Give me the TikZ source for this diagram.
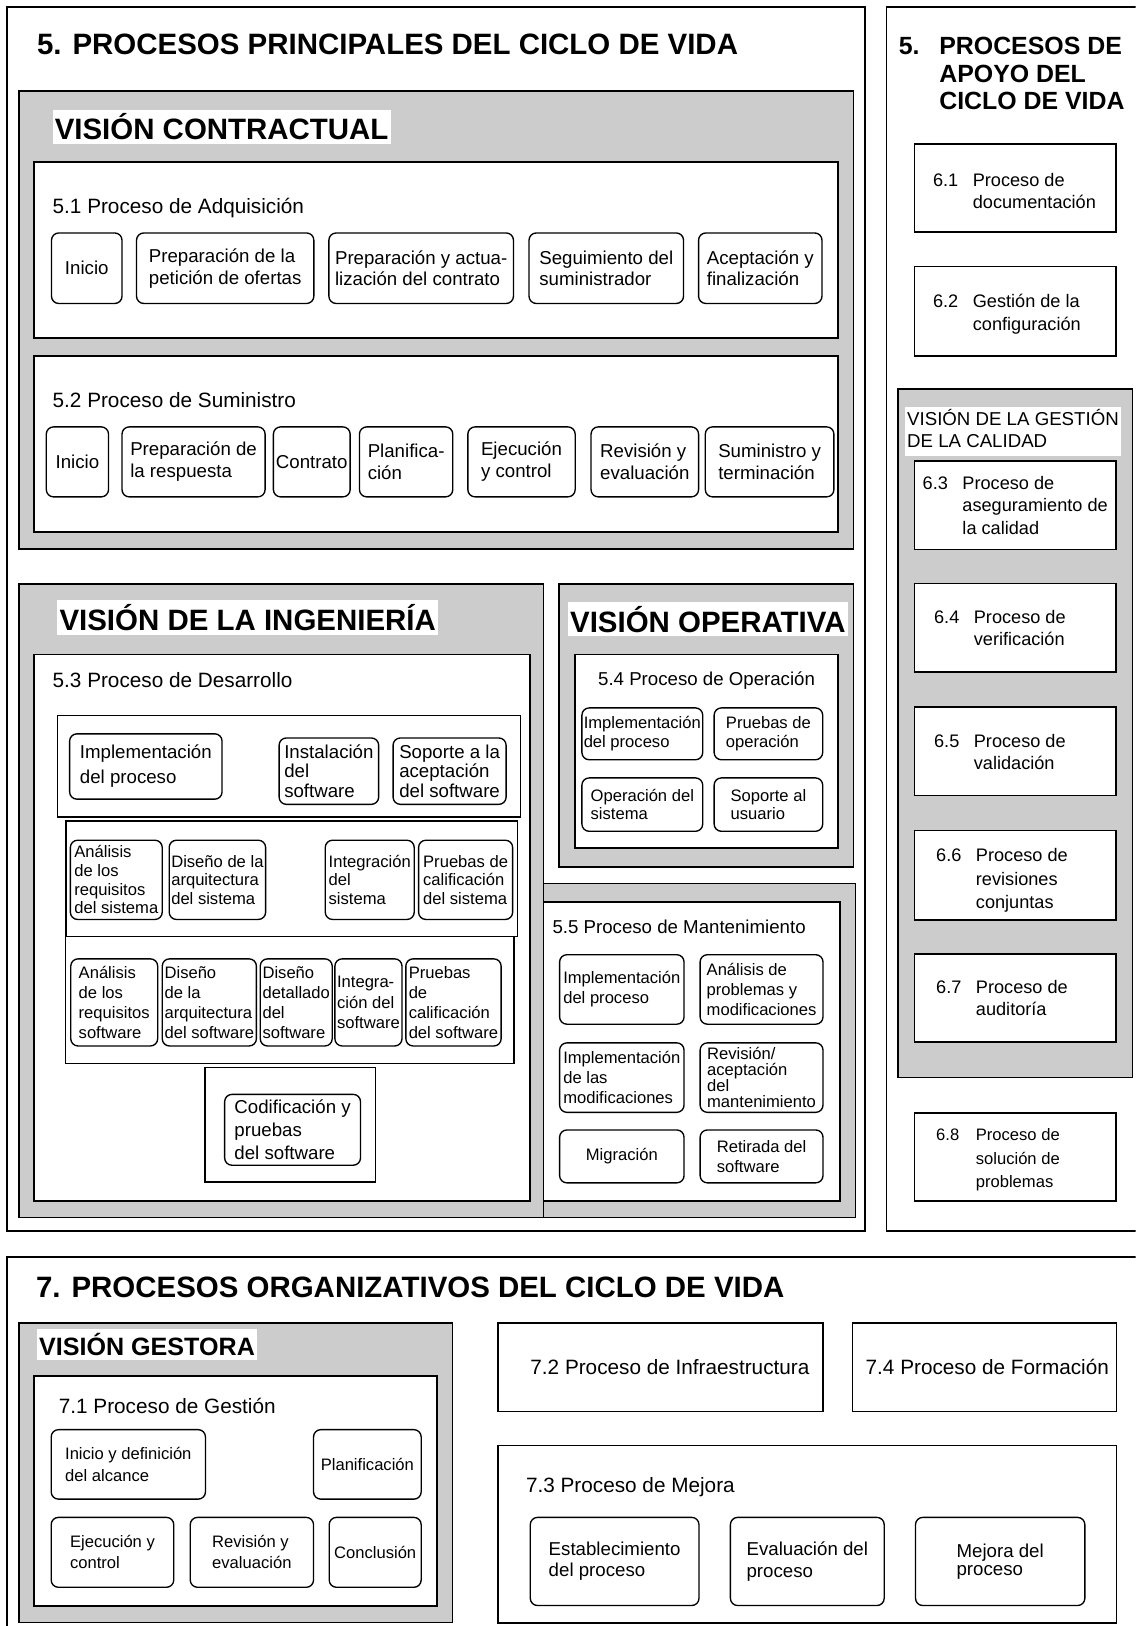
\documentclass[tikz,border=0pt]{standalone}
\usepackage{fontspec}
\setmainfont{Liberation Sans}

\begin{document}
\begin{tikzpicture}[x=1pt,y=-1pt,line width=1.6pt,
    zone/.style={draw,fill=black!20},
    frame/.style={draw,fill=white},
    pbox/.style 2 args={draw,fill=white,line width=1.3pt,rounded corners=7pt,inner sep=1pt,
      align=left,anchor=north west,minimum width=#1,minimum height=#2},
    lbl/.style={anchor=base west,inner sep=0pt},
    vis/.style={anchor=base west,fill=white,inner xsep=2pt,inner ysep=4pt,font=\bfseries\fontsize{28.4}{30}\selectfont},
    big/.style={font=\bfseries\fontsize{28.4}{30}\selectfont},
    f20/.style={font=\fontsize{20}{23}\selectfont},
    f18/.style={font=\fontsize{18}{21}\selectfont},
    f17/.style={font=\fontsize{17.5}{21.5}\selectfont},
    f16/.style={font=\fontsize{16}{18}\selectfont}]
      \useasboundingbox (0,0) rectangle (1095,1568);
      \clip (0,0) rectangle (1095,1568);

      % large frames
      \draw (7,7) rectangle (834,1187);
      \draw (855,7) rectangle (1120,1187);
      \draw (7,1212) rectangle (1120,1600);
      \node[lbl,big] (tmain) at (35,53) {5. PROCESOS PRINCIPALES DEL CICLO DE VIDA};
      \node[lbl,font=\bfseries\fontsize{24}{26.8}\selectfont] (tapoyo) at (866,52.4)
        {\begin{tabular}[t]{@{}l@{\hspace{19pt}}l@{}}5.&PROCESOS DE\\&APOYO DEL\\&CICLO DE VIDA\end{tabular}};
      \node[lbl,big] (torg) at (34,1251) {7. PROCESOS ORGANIZATIVOS DEL CICLO DE VIDA};

      % vision contractual
      \draw[zone] (18.5,87.5) rectangle (823,529.5);
      \node[vis] (vcon) at (50,135) {VISIÓN CONTRACTUAL};
      \draw[frame] (33,156) rectangle (808,326);
      \node[lbl,f20] (l51) at (50,205.7) {5.1 Proceso de Adquisición};
      \node[pbox={68}{68},f18] (a1) at (49,224) {Inicio};
      \node[pbox={171}{68},f18] (a2) at (131,224) {Preparación de la\\petición de ofertas};
      \node[pbox={178}{68},f18] (a3) at (316.5,224) {Preparación y actua-\\lización del contrato};
      \node[pbox={149}{68},f18] (a4) at (509.5,224) {Seguimiento del\\suministrador};
      \node[pbox={119}{68},f18] (a5) at (673,224) {Aceptación y\\finalización};
      \draw[frame] (33,343) rectangle (808,513);
      \node[lbl,f20] (l52) at (50,392.5) {5.2 Proceso de Suministro};
      \node[pbox={60}{67.5},f18] (b1) at (44,411) {Inicio};
      \node[pbox={138}{67.5},f18] (b2) at (117,411) {Preparación de\\la respuesta};
      \node[pbox={74}{67.5},f18] (b3) at (263,411) {Contrato};
      \node[pbox={90}{67.5},f18] (b4) at (346,411) {Planifica-\\ción};
      \node[pbox={103.5}{67.5},f18] (b5) at (450.5,411) {Ejecución\\y control};
      \node[pbox={103.7}{67.5},f18] (b6) at (569.3,411) {Revisión y\\evaluación};
      \node[pbox={124}{67.5},f18] (b7) at (679.5,411) {Suministro y\\terminación};

      % vision de la ingenieria
      \draw[zone] (18.5,563) rectangle (524,1174);
      \node[vis] (ving) at (54.6,608) {VISIÓN DE LA INGENIERÍA};
      \draw[frame] (33,631) rectangle (511,1158);
      \node[lbl,f20] (l53) at (50,662.6) {5.3 Proceso de Desarrollo};
      \draw[frame] (55.5,690) rectangle (502,788);
      \node[pbox={147}{63},font=\fontsize{18}{24}\selectfont] (c1) at (66.5,707) {Implementación\\del proceso};
      \node[pbox={96}{64},font=\fontsize{18}{19}\selectfont] (c2) at (268.5,711) {Instalación\\del\\software};
      \node[pbox={109}{64},font=\fontsize{18}{19}\selectfont] (c3) at (378.4,711) {Soporte a la\\aceptación\\del software};
      \draw[frame] (63.5,792) rectangle (499,903);
      \node[pbox={88.6}{76.4},f16] (d1) at (67.2,809.6) {Análisis\\de los\\requisitos\\del sistema};
      \node[pbox={93}{76.4},f16] (d2) at (162.5,809.6) {Diseño de la\\arquitectura\\del sistema};
      \node[pbox={85.8}{76.4},f16] (d3) at (313,809.6) {Integración\\del\\sistema};
      \node[pbox={90.7}{76.4},f16] (d4) at (403,809.6) {Pruebas de\\calificación\\del sistema};
      \draw[frame] (63,903) rectangle (495.5,1025.5);
      \node[pbox={83.8}{84},font=\fontsize{16}{19.5}\selectfont] (e1) at (67.6,924) {Análisis\\de los\\requisitos\\software};
      \node[pbox={90.8}{84},font=\fontsize{16}{19.5}\selectfont] (e2) at (155.8,924) {Diseño\\de la\\arquitectura\\del software};
      \node[pbox={69.4}{84},font=\fontsize{16}{19.5}\selectfont] (e3) at (250.3,924) {Diseño\\detallado\\del\\software};
      \node[pbox={64.7}{84},font=\fontsize{16}{19.5}\selectfont] (e4) at (322.3,924) {Integra-\\ción del\\software};
      \node[pbox={91.9}{84},font=\fontsize{16}{19.5}\selectfont] (e5) at (390.7,924) {Pruebas\\de\\calificación\\del software};
      \draw[frame] (197.5,1029.5) rectangle (362,1140);
      \node[pbox={131}{68.3},font=\fontsize{18}{22.3}\selectfont] (f1) at (216,1054.7) {Codificación y\\pruebas\\del software};

      % vision operativa
      \draw[zone] (539,563) rectangle (823,836);
      \node[vis] (vope) at (547,609.5) {VISIÓN OPERATIVA};
      \draw[frame] (554.5,631) rectangle (808,818);
      \node[lbl,f18] (l54) at (576,661) {5.4 Proceso de Operación};
      \node[pbox={116.5}{50},f16] (g1) at (560.5,682) {Implementación\\del proceso};
      \node[pbox={104.7}{50},f16] (g2) at (688,682) {Pruebas de\\operación};
      \node[pbox={116.5}{51.5},f16] (g3) at (560.5,749.5) {Operación del\\sistema};
      \node[pbox={104.7}{51.5},f16] (g4) at (688,749.5) {Soporte al\\usuario};

      % mantenimiento
      \draw[zone] (524,852) rectangle (825,1174);
      \draw[frame] (524,870) rectangle (810,1158);
      \node[lbl,f18] (l55) at (532,900) {5.5 Proceso de Mantenimiento};
      \node[pbox={120}{67},font=\fontsize{16}{19.3}\selectfont] (h1) at (539,920) {Implementación\\del proceso};
      \node[pbox={118.5}{67},font=\fontsize{16}{19.3}\selectfont] (h2) at (674.5,920) {Análisis de\\problemas y\\modificaciones};
      \node[pbox={120}{67},font=\fontsize{16}{19.3}\selectfont] (h3) at (539,1005) {Implementación\\de las\\modificaciones};
      \node[pbox={118.5}{67},font=\fontsize{16}{15.5}\selectfont] (h4) at (674.5,1005) {Revisión/\\aceptación\\del\\mantenimiento};
      \node[pbox={120}{51},f16] (h5) at (539,1089) {Migración};
      \node[pbox={118.5}{51},font=\fontsize{16}{19.3}\selectfont] (h6) at (674.5,1089) {Retirada del\\software};

      % procesos de apoyo
      \draw[frame] (882,139) rectangle (1076,224);
      \node[lbl,f17] (n61) at (899,179.5) {\begin{tabular}[t]{@{}l@{\hspace{14pt}}l@{}}6.1&Proceso de\\&documentación\end{tabular}};
      \draw[frame] (882,257) rectangle (1076,343.5);
      \node[lbl,f17] (n62) at (899,297) {\begin{tabular}[t]{@{}l@{\hspace{14pt}}l@{}}6.2&Gestión de la\\&configuración\end{tabular}};
      \draw[zone] (866,375) rectangle (1092,1039);
      \node[anchor=base west,fill=white,inner sep=2pt,font=\fontsize{18}{21.5}\selectfont] (vcal) at (872,410)
        {\begin{tabular}[t]{@{}l@{}}VISIÓN DE LA GESTIÓN\\DE LA CALIDAD\end{tabular}};
      \draw[frame] (882,444.5) rectangle (1076,530);
      \node[lbl,f17] (n63) at (889,472) {\begin{tabular}[t]{@{}l@{\hspace{14pt}}l@{}}6.3&Proceso de\\&aseguramiento de\\&la calidad\end{tabular}};
      \draw[frame] (882,562.6) rectangle (1076,648);
      \node[lbl,f17] (n64) at (900,601) {\begin{tabular}[t]{@{}l@{\hspace{14pt}}l@{}}6.4&Proceso de\\&verificación\end{tabular}};
      \draw[frame] (882,682) rectangle (1076,767);
      \node[lbl,f17] (n65) at (900,720.5) {\begin{tabular}[t]{@{}l@{\hspace{14pt}}l@{}}6.5&Proceso de\\&validación\end{tabular}};
      \draw[frame] (882,801) rectangle (1076,887);
      \node[lbl,font=\fontsize{17.5}{22.5}\selectfont] (n66) at (902,831) {\begin{tabular}[t]{@{}l@{\hspace{14pt}}l@{}}6.6&Proceso de\\&revisiones\\&conjuntas\end{tabular}};
      \draw[frame] (882,920) rectangle (1076,1005);
      \node[lbl,f17] (n67) at (902,958) {\begin{tabular}[t]{@{}l@{\hspace{14pt}}l@{}}6.7&Proceso de\\&auditoría\end{tabular}};
      \draw[frame] (882,1073) rectangle (1076,1158);
      \node[lbl,font=\fontsize{16}{22.5}\selectfont] (n68) at (902,1100) {\begin{tabular}[t]{@{}l@{\hspace{16pt}}l@{}}6.8&Proceso de\\&solución de\\&problemas\end{tabular}};

      % procesos organizativos
      \draw[zone] (18.5,1276) rectangle (436.5,1564.5);
      \node[vis,font=\bfseries\fontsize{24.2}{26}\selectfont] (vges) at (35,1307) {VISIÓN GESTORA};
      \draw[frame] (33,1327) rectangle (421.5,1548.5);
      \node[lbl,f20] (l71) at (56,1363) {7.1 Proceso de Gestión};
      \node[pbox={148.8}{67},font=\fontsize{16}{20.5}\selectfont] (k1) at (48.7,1378) {Inicio y definición\\del alcance};
      \node[pbox={103.8}{67},f16] (k2) at (301.7,1378) {Planificación};
      \node[pbox={118.2}{67.4},font=\fontsize{16}{20.5}\selectfont] (k3) at (48.7,1462.6) {Ejecución y\\control};
      \node[pbox={118.9}{67.4},font=\fontsize{16}{20.5}\selectfont] (k4) at (182.8,1462.6) {Revisión y\\evaluación};
      \node[pbox={88.7}{67.4},f16] (k5) at (316.8,1462.6) {Conclusión};
      \draw[frame] (480,1276) rectangle (793.5,1361);
      \node[lbl,f20] (l72) at (510.7,1325) {7.2 Proceso de Infraestructura};
      \draw[frame] (822,1276) rectangle (1076.5,1361);
      \node[lbl,f20] (l74) at (834,1325) {7.4 Proceso de Formación};
      \draw[frame] (480,1394) rectangle (1076.5,1565);
      \node[lbl,f20] (l73) at (506.5,1439) {7.3 Proceso de Mejora};
      \node[pbox={162.7}{85},font=\fontsize{18}{20.5}\selectfont] (m1) at (510.7,1462.6) {Establecimiento\\del proceso};
      \node[pbox={148.3}{85},font=\fontsize{18}{20.5}\selectfont] (m2) at (703.7,1462.6) {Evaluación del\\proceso};
      \node[pbox={163.3}{85},font=\fontsize{18}{17.7}\selectfont] (m3) at (882.2,1462.6) {Mejora del\\proceso};
\end{tikzpicture}
\end{document}
